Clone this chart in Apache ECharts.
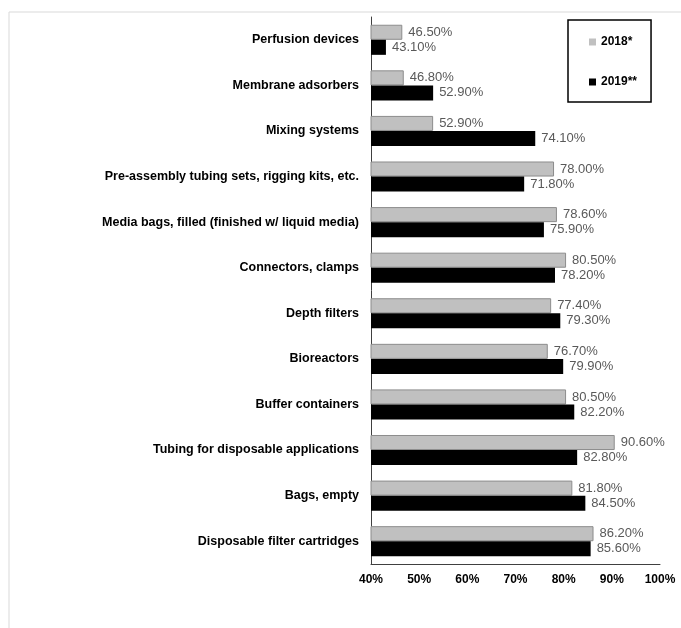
<!DOCTYPE html>
<html lang="en">
<head>
    <meta charset="UTF-8">
    <title>Single-use products</title>
    <script src="https://cdn.jsdelivr.net/npm/echarts@6/dist/echarts.min.js"></script>
    <style>
        html, body { margin: 0; padding: 0; background: #fff; }
        #chart { width: 681px; height: 628px; }
    </style>
</head>
<body>
    <div id="chart"></div>
    <script>
        // categories, top to bottom
        var categories = [
            'Perfusion devices',
            'Membrane adsorbers',
            'Mixing systems',
            'Pre-assembly tubing sets, rigging kits, etc.',
            'Media bags, filled (finished w/ liquid media)',
            'Connectors, clamps',
            'Depth filters',
            'Bioreactors',
            'Buffer containers',
            'Tubing for disposable applications',
            'Bags, empty',
            'Disposable filter cartridges'
        ];
        var values2018 = [46.5, 46.8, 52.9, 78.0, 78.6, 80.5, 77.4, 76.7, 80.5, 90.6, 81.8, 86.2];
        var values2019 = [43.1, 52.9, 74.1, 71.8, 75.9, 78.2, 79.3, 79.9, 82.2, 82.8, 84.5, 85.6];
        var xTicks = [40, 50, 60, 70, 80, 90, 100];

        var font = 'Liberation Sans, Arial, sans-serif';

        function valueLabel() {
            return {
                show: true,
                position: 'right',
                distance: 6,
                color: '#595959',
                fontSize: 13,
                fontFamily: font,
                formatter: function (p) { return p.value.toFixed(2) + '%'; }
            };
        }

        var chart = echarts.init(document.getElementById('chart'));
        chart.setOption({
            backgroundColor: '#fff',
            animation: false,
            grid: { left: 371, right: 21, top: 17, bottom: 64, containLabel: false },
            legend: {
                orient: 'vertical',
                left: 568,
                top: 20,
                padding: [16, 14, 14, 21],
                itemGap: 28,
                itemWidth: 7,
                itemHeight: 7,
                icon: 'rect',
                itemStyle: { borderWidth: 0 },
                borderColor: '#000',
                borderWidth: 1.5,
                textStyle: { fontSize: 12, fontWeight: 'bold', color: '#000', fontFamily: font },
                data: ['2018*', '2019**']
            },
            xAxis: {
                type: 'value',
                min: xTicks[0],
                max: xTicks[xTicks.length - 1],
                interval: 10,
                axisLine: { show: true, lineStyle: { color: '#404040', width: 1 } },
                axisTick: { show: false },
                splitLine: { show: false },
                axisLabel: {
                    margin: 10,
                    fontSize: 12,
                    fontWeight: 'bold',
                    color: '#000',
                    fontFamily: font,
                    formatter: '{value}%'
                }
            },
            yAxis: {
                type: 'category',
                inverse: true,
                data: categories,
                axisLine: { show: true, lineStyle: { color: '#404040', width: 1 } },
                axisTick: { show: false },
                axisLabel: {
                    margin: 12,
                    fontSize: 12.5,
                    fontWeight: 'bold',
                    color: '#000',
                    fontFamily: font
                }
            },
            series: [
                {
                    name: '2018*',
                    type: 'bar',
                    data: values2018,
                    barGap: '0%',
                    barCategoryGap: '34%',
                    itemStyle: { color: '#c0c0c0', borderColor: '#8c8c8c', borderWidth: 1 },
                    label: valueLabel()
                },
                {
                    name: '2019**',
                    type: 'bar',
                    data: values2019,
                    itemStyle: { color: '#000' },
                    label: valueLabel()
                }
            ],
            graphic: [
                { type: 'line', shape: { x1: 9, y1: 12, x2: 681, y2: 12 }, style: { stroke: '#d9d9d9', lineWidth: 1 } },
                { type: 'line', shape: { x1: 9, y1: 12, x2: 9, y2: 628 }, style: { stroke: '#d9d9d9', lineWidth: 1 } }
            ]
        });
    </script>
</body>
</html>
